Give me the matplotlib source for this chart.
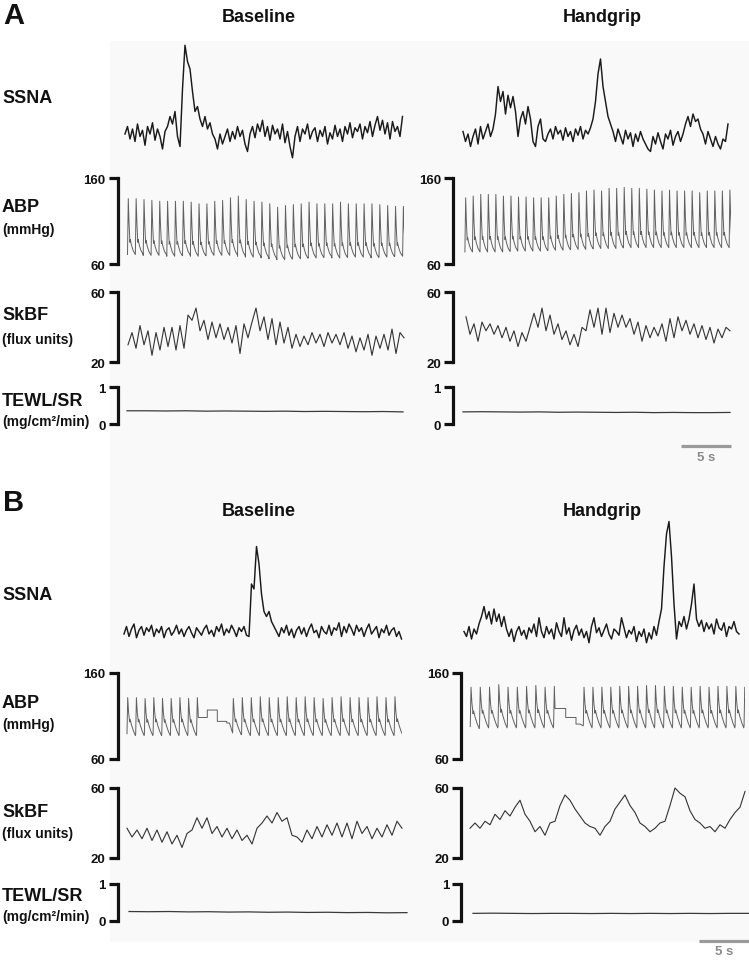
import numpy as np
import matplotlib
matplotlib.use('Agg')
import matplotlib.pyplot as plt
from matplotlib.patches import Rectangle

# ---- data ----
# SSNA, arbitrary units, sampled every 0.25 s
SSNA_DT = 0.25
SSNA_A_BASE = [24, 30, 20, 28, 18, 32, 22, 27, 15, 30, 24, 33, 19, 28, 22, 12, 26, 30,
               38, 32, 42, 22, 14, 60, 95, 82, 76, 58, 42, 46, 36, 30, 38, 28, 33, 24, 20, 12, 24, 16, 22,
               28, 18, 26, 20, 30, 22, 27, 16, 10, 24, 30, 21, 32, 26, 35, 22, 30, 19, 31, 24,
               28, 20, 32, 17, 26, 14, 5, 22, 30, 18, 28, 24, 32, 20, 26, 29, 18, 27, 22, 30,
               16, 25, 20, 31, 22, 28, 18, 30, 24, 33, 21, 29, 26, 32, 20, 30, 25, 34, 22, 31,
               38, 27, 35, 24, 33, 20, 34, 26, 30, 22, 38]
SSNA_A_HG = [26, 18, 24, 14, 22, 28, 16, 30, 20, 26, 32, 22, 28,
             40, 62, 50, 58, 40, 55, 45, 54, 42, 22, 36, 42, 32, 46, 36, 18, 14, 30, 36, 20, 18, 24,
             28, 20, 30, 24, 27, 19, 29, 22, 26, 18, 28, 23, 30, 20, 27, 24, 29,
             36, 50, 72, 84, 62, 50, 38, 32,
             26, 18, 28, 22, 16, 27, 20, 25, 14, 24, 18, 26, 20, 16,
             12, 10,
             22, 16, 25, 18, 12, 24, 20, 27, 15, 22, 26, 18, 24,
             32, 38, 30, 40, 34, 36, 28,
             24, 16, 26, 20, 14, 22, 16, 12, 20, 18, 32]
SSNA_B_BASE = [16, 22, 14, 20, 24, 13, 19, 22, 15, 21, 18, 23, 14, 20, 17, 22, 13, 19, 21, 15,
               18, 23, 16, 20, 14, 19, 22, 17, 13, 21, 18, 15, 20, 23, 16, 19, 14, 22, 18, 24,
               15, 20, 17, 23, 19, 14, 21, 18, 22, 15,
               14, 56, 52, 86, 72, 48, 34, 30, 34, 26, 22,
               18, 14, 21, 17, 23, 15, 20, 13, 19, 22, 16, 21, 14, 20, 24, 17, 19, 13, 22, 18,
               16, 23, 15, 21, 19, 25, 14, 22, 17, 24, 20, 15, 23, 18, 21, 14, 20, 24, 16, 19,
               22, 13, 20, 17, 23, 15, 19, 21, 14, 18, 12]
SSNA_B_HG = [18, 14, 22, 12, 20, 16, 24,
             30, 38, 28, 34, 24, 36, 26, 32, 22, 30, 20,
             14, 20, 10, 18, 22, 15, 19, 12, 21, 17, 24, 14, 29, 18, 13, 22, 16, 20, 12, 25,
             18, 14, 29, 16, 21, 11, 19, 23, 15, 20, 13, 18, 9, 22, 29, 17, 21, 14, 19, 24,
             16, 12, 20, 18, 15, 29, 21, 13, 19, 16, 22, 10, 18, 14, 20, 9, 17, 12, 22, 15, 26,
             36, 70, 96, 106, 78, 40, 12, 26, 22, 30, 20, 28, 40, 56, 28,
             22, 27, 18, 25, 20, 24, 16, 28, 21, 19, 25, 14, 22, 20, 26, 18, 16]

# ABP: beat template (fraction of the beat, fraction of pulse pressure)
ABP_PHASE_A = [0.0, 0.10, 0.20, 0.31, 0.36, 0.50, 0.72, 0.97]
ABP_LEVEL_A = [0.0, 1.0, 0.55, 0.22, 0.27, 0.17, 0.07, 0.01]
ABP_PHASE_B = [0.0, 0.08, 0.18, 0.30, 0.36, 0.52, 0.75, 0.97]
ABP_LEVEL_B = [0.05, 1.0, 0.62, 0.36, 0.43, 0.28, 0.12, 0.0]

# per-beat systolic / diastolic (mmHg)
ABP_A_BASE_SYS = [136, 136, 135, 134, 133, 133, 133, 133, 132, 130, 130, 133, 134, 137, 139, 135, 133, 132,
                  130, 126, 128, 129, 130, 132, 130, 130, 130, 132, 130, 130, 130, 130, 129, 128, 127, 127]
ABP_A_BASE_DIA = [71, 71, 70, 70, 70, 69, 69, 70, 69, 69, 70, 70, 70, 70, 69, 68, 68, 67,
                  66, 65, 65, 66, 66, 67, 67, 68, 67, 67, 68, 68, 68, 67, 68, 68, 69, 69]
ABP_A_HG_SYS = [137, 139, 141, 141, 141, 139, 139, 138, 138, 137, 137, 137, 139, 141, 142, 143, 145, 146,
                145, 148, 148, 149, 148, 148, 147, 146, 145, 146, 145, 145, 145, 143, 145, 145, 145, 146]
ABP_A_HG_DIA = [74, 74, 74, 74, 74, 74, 75, 75, 75, 75, 75, 76, 76, 76, 77, 77, 77, 78,
                78, 78, 78, 79, 79, 79, 79, 79, 79, 79, 79, 79, 79, 79, 79, 79, 79, 79]
ABP_B_BASE_SYS1 = [131, 131, 130, 131, 130, 130, 131, 130, 131]
ABP_B_BASE_DIA1 = [87, 87, 87, 87, 87, 87, 87, 87, 87]
ABP_B_BASE_SYS2 = [130, 131, 131, 132, 131, 131, 132, 131, 132, 131, 130, 131, 132, 131, 131, 131, 132, 131, 132, 131]
ABP_B_BASE_DIA2 = [88, 87, 87, 87, 87, 87, 87, 87, 87, 87, 87, 87, 87, 87, 87, 87, 87, 87, 87, 87]
ABP_B_HG_SYS1 = [143, 143, 143, 146, 143, 143, 144, 145, 143, 144]
ABP_B_HG_DIA1 = [95, 96, 96, 96, 96, 96, 96, 96, 96, 96]
ABP_B_HG_SYS2 = [143, 143, 143, 143, 144, 144, 144, 145, 145, 144, 144, 143, 143, 144, 143, 144, 144, 144, 143, 143]
ABP_B_HG_DIA2 = [96, 96, 96, 96, 96, 96, 96, 96, 96, 96, 96, 96, 96, 96, 96, 96, 96, 96, 96, 96]
# calibration steps in panel B (s, mmHg)
CAL_B_BASE_T = [7.43, 8.33, 9.33, 10.27, 10.55]
CAL_B_BASE_P = [108, 116.6, 103.5, 101.6]
CAL_B_HG_T = [8.7, 9.77, 10.8, 11.2]
CAL_B_HG_P = [118.4, 108, 100.4]

# SkBF (flux units)
SKBF_A_DT = 0.4
SKBF_A_BASE = [30, 37, 28, 41, 30, 38, 24, 37, 27, 40, 29, 40, 27, 41, 28, 47, 44, 51, 38, 44,
               33, 43, 34, 42, 33, 40, 31, 41, 25, 42, 34, 43, 51, 38, 46, 33, 45, 30, 43, 31,
               40, 28, 36, 29, 35, 30, 37, 31, 36, 29, 37, 31, 36, 30, 37, 28, 35, 26, 34, 27,
               36, 24, 35, 28, 36, 27, 39, 25, 37, 34]
SKBF_A_HG = [46, 36, 42, 32, 43, 38, 42, 36, 41, 34, 40, 32, 38, 29, 37, 32, 40, 48, 40, 51,
             38, 47, 36, 42, 33, 38, 30, 36, 29, 40, 38, 50, 40, 51, 36, 51, 37, 48, 40, 47,
             40, 45, 36, 43, 32, 41, 34, 40, 35, 42, 32, 45, 34, 46, 38, 44, 36, 42, 34, 41,
             33, 40, 31, 39, 34, 40, 38]
SKBF_B_DT = 0.5
SKBF_B_BASE = [37, 32, 36, 31, 37, 30, 36, 29, 35, 28, 33, 26, 34, 36, 43, 37, 43, 34, 38, 32,
               37, 31, 36, 30, 33, 28, 37, 40, 44, 40, 46, 41, 43, 33, 32, 29, 36, 31, 38, 32,
               39, 33, 40, 32, 40, 31, 41, 34, 38, 31, 37, 32, 39, 33, 41, 37]
SKBF_B_HG = [37, 40, 37, 41, 39, 45, 42, 47, 44, 49, 53, 45, 41, 35, 38, 33, 40, 41, 50, 56,
             53, 48, 44, 40, 38, 37, 33, 38, 41, 48, 52, 56, 50, 46, 40, 38, 35, 37, 40, 41,
             50, 60, 57, 55, 47, 42, 40, 37, 38, 35, 39, 37, 42, 46, 49, 58]

# TEWL/SR (mg/cm2/min), 15 samples across each window
TEWL_A_BASE = [0.36, 0.36, 0.355, 0.36, 0.35, 0.355, 0.35, 0.345, 0.35, 0.34, 0.345, 0.34, 0.335, 0.34, 0.33]
TEWL_A_HG = [0.33, 0.335, 0.33, 0.325, 0.33, 0.32, 0.325, 0.32, 0.315, 0.32, 0.31, 0.315, 0.31, 0.31, 0.315]
TEWL_B_BASE = [0.25, 0.245, 0.25, 0.24, 0.245, 0.235, 0.24, 0.23, 0.235, 0.225, 0.23, 0.22, 0.225, 0.215, 0.22]
TEWL_B_HG = [0.2, 0.205, 0.2, 0.195, 0.2, 0.2, 0.195, 0.2, 0.195, 0.2, 0.195, 0.2, 0.195, 0.2, 0.2]

# ---- figure ----
W, H = 749, 962
PX_PER_S = 10.0
plt.rcParams['font.family'] = ['Liberation Sans', 'DejaVu Sans']
fig = plt.figure(figsize=(W / 100, H / 100), dpi=100)
# faint grey backdrop behind the traces
fig.patches.append(Rectangle((110 / W, 1 - 943 / H), (W - 110) / W, (943 - 42) / H,
                             transform=fig.transFigure, facecolor='#f9f9f9', edgecolor='none', zorder=-10))


def make_axes(x_start, x_end, y_hi, y_lo, v_hi, v_lo, bracket_x=None, margin=0.15):
    ppu = (y_lo - y_hi) / (v_hi - v_lo)
    pad = (v_hi - v_lo) * margin
    top = y_hi - pad * ppu
    bot = y_lo + pad * ppu
    left = bracket_x if bracket_x is not None else x_start
    ax = fig.add_axes([left / W, 1 - bot / H, (x_end - left) / W, (bot - top) / H])
    ax.set_xlim((left - x_start) / PX_PER_S, (x_end - x_start) / PX_PER_S)
    ax.set_ylim(v_lo - pad, v_hi + pad)
    ax.patch.set_visible(False)
    for s in ['top', 'right', 'bottom']:
        ax.spines[s].set_visible(False)
    ax.set_xticks([])
    if bracket_x is None:
        ax.spines['left'].set_visible(False)
        ax.set_yticks([])
    else:
        ax.spines['left'].set_bounds(v_lo, v_hi)
        ax.spines['left'].set_linewidth(2.3)
        ax.spines['left'].set_color('#111111')
        ax.set_yticks([v_lo, v_hi])
        ax.set_yticklabels([f'{v_lo:g}', f'{v_hi:g}'], fontweight='bold')
        ax.tick_params(axis='y', length=6.5, width=2.3, labelsize=9.5, pad=2, colors='#111111')
    return ax


def beats(first_onset, rr, sys_vals, dia_vals, phase, level):
    t, p = [], []
    for k, (s, d) in enumerate(zip(sys_vals, dia_vals)):
        t0 = first_onset + k * rr
        for ph, lv in zip(phase, level):
            t.append(t0 + ph * rr)
            p.append(d + lv * (s - d))
    return t, p


def steps(ts, ps):
    t, p = [], []
    for i, lv in enumerate(ps):
        t += [ts[i], ts[i + 1]]
        p += [lv, lv]
    return t, p


def sampled(vals, dt):
    return np.arange(len(vals)) * dt, vals


def ftext(x, y, s, size, ha='left', color='#111111', weight='bold'):
    fig.text(x / W, 1 - y / H, s, fontsize=size, ha=ha, va='center', color=color, fontweight=weight)


SSNA_KW = dict(color='#1a1a1a', lw=1.05, clip_on=False)
ABP_KW = dict(color='#606060', lw=0.7)
SKBF_KW = dict(color='#333333', lw=0.8, clip_on=False)
TEWL_KW = dict(color='#3a3a3a', lw=0.9, clip_on=False)

# ---------------- panel A ----------------
ax = make_axes(125, 403, 40, 165, 100, 0)
ax.plot(*sampled(SSNA_A_BASE, SSNA_DT), **SSNA_KW)
ax = make_axes(463, 730, 40, 165, 100, 0)
ax.plot(*sampled(SSNA_A_HG, SSNA_DT), **SSNA_KW)

ax = make_axes(127, 403.5, 179, 265, 160, 60, bracket_x=117.5)
ax.plot(*beats(0.05, 0.786, ABP_A_BASE_SYS, ABP_A_BASE_DIA, ABP_PHASE_A, ABP_LEVEL_A), **ABP_KW)
ax = make_axes(463, 731, 179, 265, 160, 60, bracket_x=452.7)
ax.plot(*beats(0.19, 0.755, ABP_A_HG_SYS, ABP_A_HG_DIA, ABP_PHASE_A, ABP_LEVEL_A), **ABP_KW)

ax = make_axes(128, 406, 293.3, 363.3, 60, 20, bracket_x=117.5)
ax.plot(*sampled(SKBF_A_BASE, SKBF_A_DT), **SKBF_KW)
ax = make_axes(466, 733, 293.3, 363.3, 60, 20, bracket_x=452.7)
ax.plot(*sampled(SKBF_A_HG, SKBF_A_DT), **SKBF_KW)

ax = make_axes(127, 403, 388.3, 425, 1, 0, bracket_x=117.5)
ax.plot(np.linspace(0, 27.6, len(TEWL_A_BASE)), TEWL_A_BASE, **TEWL_KW)
ax = make_axes(463, 730, 388.3, 425, 1, 0, bracket_x=452.7)
ax.plot(np.linspace(0, 26.7, len(TEWL_A_HG)), TEWL_A_HG, **TEWL_KW)
ax.plot([21.8, 26.8], [-0.59, -0.59], color='#9a9a9a', lw=2.3, clip_on=False, solid_capstyle='butt')
ax.text(24.3, -0.9, '5 s', fontsize=9.5, ha='center', va='center', color='#8a8a8a', fontweight='bold')

# ---------------- panel B ----------------
ax = make_axes(124, 402, 530, 655, 100, 0)
ax.plot(*sampled(SSNA_B_BASE, SSNA_DT), **SSNA_KW)
ax = make_axes(464, 741, 530, 655, 100, 0)
ax.plot(*sampled(SSNA_B_HG, SSNA_DT), **SSNA_KW)

ax = make_axes(124, 402, 673.5, 760, 160, 60, bracket_x=117.5)
t1, p1 = beats(0.30, 0.87, ABP_B_BASE_SYS1, ABP_B_BASE_DIA1, ABP_PHASE_B, ABP_LEVEL_B)
keep = [i for i, tt in enumerate(t1) if tt < CAL_B_BASE_T[0]]
tc, pc = steps(CAL_B_BASE_T, CAL_B_BASE_P)
t2, p2 = beats(10.86, 0.898, ABP_B_BASE_SYS2, ABP_B_BASE_DIA2, ABP_PHASE_B, ABP_LEVEL_B)
ax.plot([t1[i] for i in keep] + tc + t2, [p1[i] for i in keep] + pc + p2, **ABP_KW)

ax = make_axes(468, 745, 673.5, 760, 160, 60, bracket_x=461)
t1, p1 = beats(0.226, 0.926, ABP_B_HG_SYS1, ABP_B_HG_DIA1, ABP_PHASE_B, ABP_LEVEL_B)
keep = [i for i, tt in enumerate(t1) if tt < CAL_B_HG_T[0]]
tc, pc = steps(CAL_B_HG_T, CAL_B_HG_P)
t2, p2 = beats(11.53, 0.893, ABP_B_HG_SYS2, ABP_B_HG_DIA2, ABP_PHASE_B, ABP_LEVEL_B)
ax.plot([t1[i] for i in keep] + tc + t2, [p1[i] for i in keep] + pc + p2, **ABP_KW)

ax = make_axes(127, 402, 789, 859, 60, 20, bracket_x=117.5)
ax.plot(*sampled(SKBF_B_BASE, SKBF_B_DT), **SKBF_KW)
ax = make_axes(470, 745, 789, 859, 60, 20, bracket_x=461)
ax.plot(*sampled(SKBF_B_HG, SKBF_B_DT), **SKBF_KW)

ax = make_axes(129, 407, 885, 921.7, 1, 0, bracket_x=117.5)
ax.plot(np.linspace(0, 27.8, len(TEWL_B_BASE)), TEWL_B_BASE, **TEWL_KW)
ax = make_axes(473, 749, 885, 921.7, 1, 0, bracket_x=461)
ax.plot(np.linspace(0, 27.6, len(TEWL_B_HG)), TEWL_B_HG, **TEWL_KW)
ax.plot([22.6, 27.6], [-0.545, -0.545], color='#9a9a9a', lw=2.3, clip_on=False, solid_capstyle='butt')
ax.text(25.1, -0.83, '5 s', fontsize=9.5, ha='center', va='center', color='#8a8a8a', fontweight='bold')

# ---------------- labels ----------------
ftext(3, 16, 'A', 21)
ftext(3, 503, 'B', 21)
ftext(258.5, 18, 'Baseline', 13, ha='center')
ftext(602, 18, 'Handgrip', 13, ha='center')
ftext(258.5, 511.5, 'Baseline', 13, ha='center')
ftext(602, 511.5, 'Handgrip', 13, ha='center')

ftext(2, 98.5, 'SSNA', 13)
ftext(2, 208, 'ABP', 13)
ftext(2, 230, '(mmHg)', 10)
ftext(2, 316, 'SkBF', 13)
ftext(2, 340, '(flux units)', 10)
ftext(2, 402, 'TEWL/SR', 13)
ftext(2, 422, '(mg/cm²/min)', 10)

ftext(2, 596, 'SSNA', 13)
ftext(2, 704, 'ABP', 13)
ftext(2, 725, '(mmHg)', 10)
ftext(2, 813, 'SkBF', 13)
ftext(2, 834, '(flux units)', 10)
ftext(2, 897, 'TEWL/SR', 13)
ftext(2, 917, '(mg/cm²/min)', 10)

fig.savefig('out.png', dpi=100)
